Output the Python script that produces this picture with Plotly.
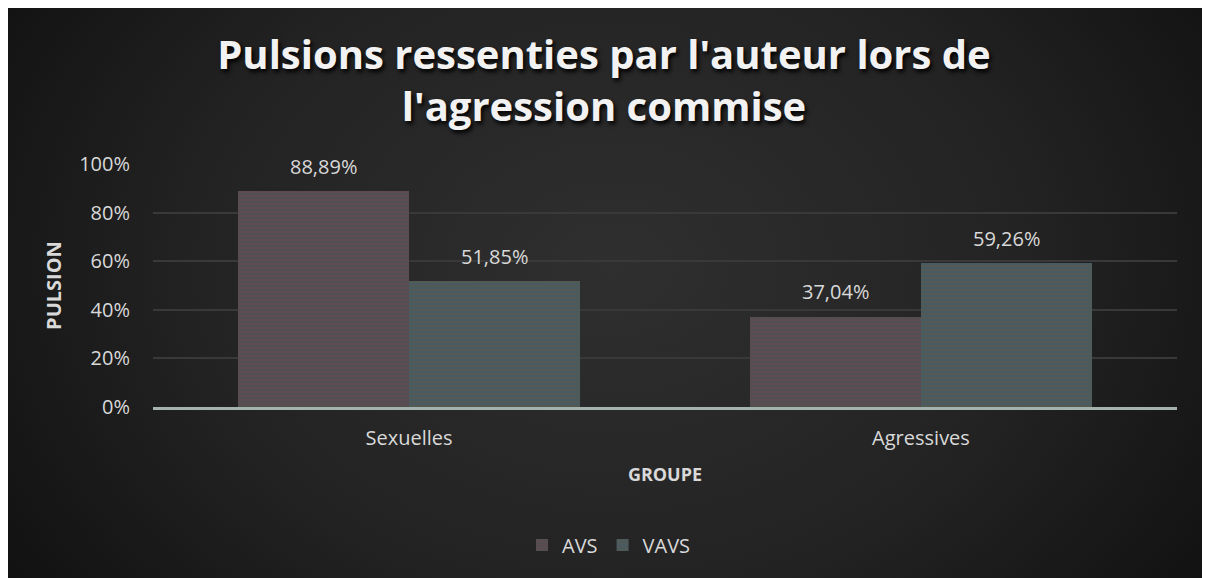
import base64
import plotly.graph_objects as go

categories = ["Sexuelles", "Agressives"]
avs_values = [0.8889, 0.3704]
vavs_values = [0.5185, 0.5926]
avs_labels = ["88,89%", "37,04%"]
vavs_labels = ["51,85%", "59,26%"]
y_tick_vals = [0, 0.2, 0.4, 0.6, 0.8, 1.0]
y_tick_text = ["0%", "20%", "40%", "60%", "80%", "100%"]

W, H = 1210, 578
L, R, T, B = 145, 41, 156, 179
pw, ph = W - L - R, H - T - B

svg = '''<svg xmlns="http://www.w3.org/2000/svg" width="1210" height="578" viewBox="0 0 1210 578" preserveAspectRatio="none">
<defs><radialGradient id="g" cx="0.5" cy="0.45" r="0.62" gradientTransform="translate(0.5,0.45) scale(1,1.6) translate(-0.5,-0.45)">
<stop offset="0" stop-color="#2f2f2f"/><stop offset="0.55" stop-color="#232323"/><stop offset="1" stop-color="#101010"/></radialGradient></defs>
<rect width="1210" height="578" fill="url(#g)"/></svg>'''
src = "data:image/svg+xml;base64," + base64.b64encode(svg.encode()).decode()

FONT = "Open Sans"
TXT = "#d9d9d9"

fig = go.Figure()
fig.add_trace(go.Bar(
    name="AVS", x=categories, y=avs_values,
    marker=dict(color="#545052", line=dict(width=0),
                pattern=dict(shape="-", fgcolor="#46554a", bgcolor="#5e4a54", size=4, solidity=0.5)),
))
fig.add_trace(go.Bar(
    name="VAVS", x=categories, y=vavs_values,
    marker=dict(color="#535554", line=dict(width=0),
                pattern=dict(shape="-", fgcolor="#5c5a44", bgcolor="#485a62", size=4, solidity=0.5)),
))

for vals, labs, shift in [(avs_values, avs_labels, -85.5), (vavs_values, vavs_labels, 85.5)]:
    for c, v, t in zip(categories, vals, labs):
        fig.add_annotation(x=c, y=v, text=t, showarrow=False, xshift=shift, yshift=25,
                           font=dict(family=FONT, size=20, color=TXT))

fig.add_layout_image(dict(
    source=src, xref="paper", yref="paper",
    x=-L / pw, y=(H - B) / ph, sizex=W / pw, sizey=H / ph,
    xanchor="left", yanchor="top", sizing="stretch", layer="below",
))

fig.update_layout(
    width=W, height=H,
    margin=dict(l=L, r=R, t=T, b=B, pad=0),
    paper_bgcolor="#1a1a1a", plot_bgcolor="rgba(0,0,0,0)",
    barmode="group", bargap=0.332, bargroupgap=0,
    title=dict(
        text="Pulsions ressenties par l'auteur lors de<br>l'agression commise",
        x=596 / W, xref="container", xanchor="center", y=1 - 61 / H, yanchor="middle", yref="container",
        font=dict(family=FONT, size=40, color="#f2f2f2", weight="bold",
                  shadow="2px 3px 4px #000000"),
    ),
    legend=dict(orientation="h", x=(601 - L) / pw, xanchor="center", y=-(537 - (H - B)) / ph,
                yanchor="middle", font=dict(family=FONT, size=20, color=TXT),
                bgcolor="rgba(0,0,0,0)", traceorder="normal"),
    font=dict(family=FONT, color=TXT),
)
fig.update_xaxes(
    showline=True, linecolor="#a4b4ad", linewidth=3, ticks="", showgrid=False,
    ticklabelstandoff=11,
    tickfont=dict(family=FONT, size=20, color=TXT),
    title=dict(text="GROUPE", font=dict(family=FONT, size=18, color=TXT, weight="bold"), standoff=19),
)
fig.update_yaxes(
    range=[0, 1.0], tickvals=y_tick_vals, ticktext=y_tick_text,
    showgrid=True, gridcolor="#393939", gridwidth=2, zeroline=False, showline=False,
    ticks="", ticklabelstandoff=22,
    tickfont=dict(family=FONT, size=20, color=TXT),
    title=dict(text="PULSION", font=dict(family=FONT, size=20, color=TXT, weight="bold"), standoff=12),
)

fig.write_html("out.html")
